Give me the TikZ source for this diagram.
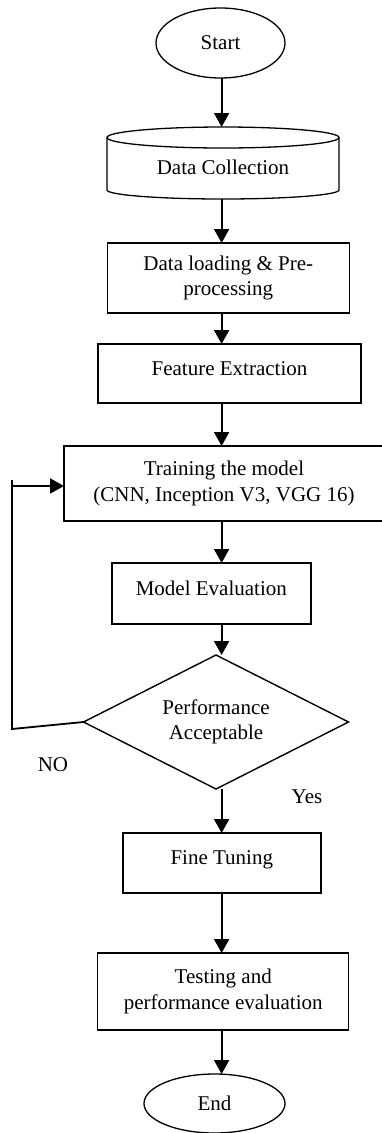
\documentclass[tikz,border=0pt]{standalone}
\usepackage{fontspec}
\setmainfont{Liberation Serif}
\usepackage{tikz}
\usetikzlibrary{shapes.geometric,arrows.meta,calc}

\begin{document}
\begin{tikzpicture}[x=1pt,y=-1pt,font=\fontsize{21}{25.5}\selectfont,
  outer sep=0pt,
  term/.style={ellipse,draw,line width=1.3pt,inner sep=0pt},
  proc/.style={rectangle,draw,line width=1.4pt,align=center,inner sep=0pt},
  lift/.style={text height=14pt,text depth=11pt},
  store/.style={rectangle,inner sep=0pt,minimum width=232pt,minimum height=72pt,text height=22pt,text depth=0pt},
  test/.style={diamond,draw,line width=1.4pt,aspect=2,inner sep=0pt,align=center},
  flow/.style={line width=2pt,-{Triangle[length=14pt,width=15pt]}},
  backline/.style={line width=1.8pt}]
\clip (0,0) rectangle (382,1133);

% all the down arrows run on this x
\coordinate (spine) at (221.6,0);

\node[term,minimum width=129pt,minimum height=70pt] (start) at (220.5,43) {Start};

% data store drawn as a cylinder round the node
\node[store] (collect) at (223,163) {Data Collection};
\draw[line width=1.3pt] ([yshift=-10.5pt]collect.north) ellipse [x radius=116pt,y radius=10.5pt];
\draw[line width=1.3pt] ([yshift=-10.5pt]collect.north west) -- ([yshift=9pt]collect.south west)
  arc[start angle=180,end angle=360,x radius=116pt,y radius=9pt] -- ([yshift=-10.5pt]collect.north east);

\node[proc,minimum width=242pt,minimum height=70pt] (load) at (228.3,278) {Data loading \& Pre-\\processing};
\node[proc,lift,minimum width=263pt,minimum height=59pt] (feat) at (229.5,373.5) {Feature Extraction};
% runs off the right side of the page; text is set apart so it stays centred
\node[proc,minimum width=360pt,minimum height=75pt] (train) at (244,483.5) {};
\node[align=center] (traintext) at (224,483.5) {Training the model\\(CNN, Inception V3, VGG 16)};
\node[proc,lift,minimum width=199pt,minimum height=61pt] (eval) at (211.3,593.5) {Model Evaluation};
\node[test,minimum width=265pt,minimum height=134pt] (accept) at (216,722) {Performance\\Acceptable};
\node[proc,lift,minimum width=198pt,minimum height=60pt] (tune) at (221.8,863) {Fine Tuning};
\node[proc,minimum width=251pt,minimum height=77pt] (testing) at (223.2,991.5) {Testing and\\performance evaluation};
\node[term,minimum width=141pt,minimum height=59pt] (end) at (214.5,1103.5) {End};

\node (no) at (53,765) {NO};
\node (yes) at (307,797) {Yes};

\draw[flow] (start.south -| spine) -- (collect.north -| spine);
\draw[flow] (collect.south -| spine) -- (load.north -| spine);
\draw[flow] (load.south -| spine) -- (feat.north -| spine);
\draw[flow] (feat.south -| spine) -- (train.north -| spine);
\draw[flow] (train.south -| spine) -- (eval.north -| spine);
\draw[flow] (eval.south -| spine) -- (accept.north -| spine);
\draw[flow] (accept.south -| spine) -- (tune.north -| spine);
\draw[flow] (tune.south -| spine) -- (testing.north -| spine);
\draw[flow] (testing.south -| spine) -- (end.north -| spine);

% NO branch goes back to training
\coordinate (ltop) at (12,480);
\coordinate (lin) at (12,486);
\coordinate (lbot) at (12,729);
\draw[backline] (accept.west) -- (lbot) -- (ltop);
\draw[flow] (lin) -- (lin -| train.west);
\end{tikzpicture}
\end{document}
